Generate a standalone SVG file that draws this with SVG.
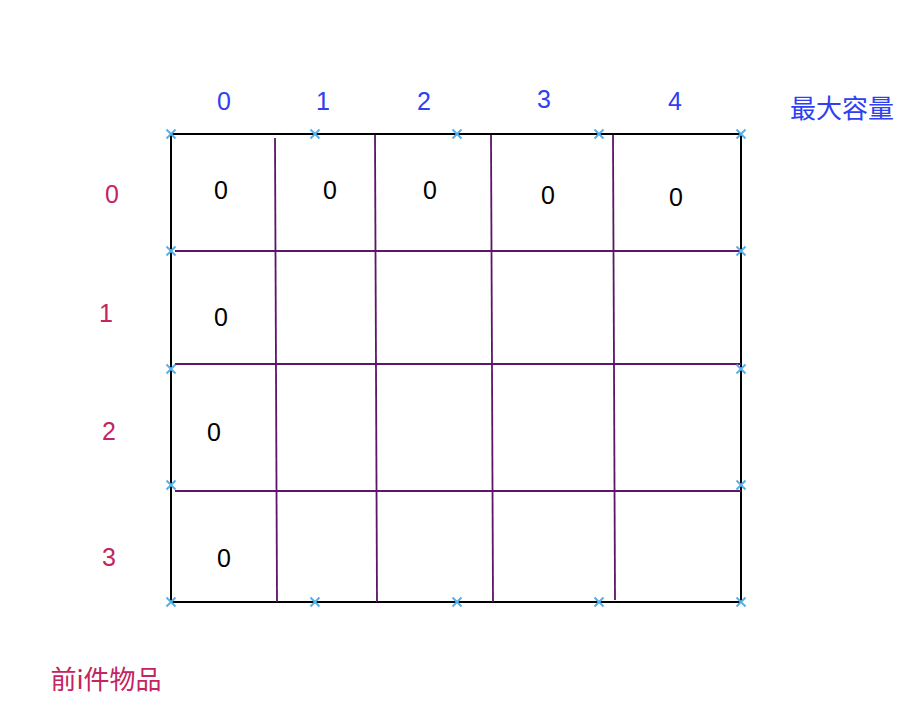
<svg xmlns="http://www.w3.org/2000/svg" width="912" height="726" viewBox="0 0 912 726">
<defs>
<style>
.grid{fill:none;stroke:#000;stroke-width:2}
.ln{stroke:#5E1469;stroke-width:1.8;fill:none}
.mk{stroke:#56B0EA;stroke-width:2;fill:none}
text{font-family:"Liberation Sans","Noto Sans CJK SC",Arial,sans-serif;dominant-baseline:central;text-anchor:middle}
.col{fill:#2F40F0;font-size:25px}
.row{fill:#C2255F;font-size:25px}
.cell{fill:#000;font-size:25px}
.cjk{font-family:"Noto Sans CJK SC","Liberation Sans",sans-serif;font-size:26px}
</style>
<g id="x"><path class="mk" d="M-4.5,-4.5L4.5,4.5M-4.5,4.5L4.5,-4.5"/></g>
</defs>
<rect width="912" height="726" fill="#fff"/>
<g id="table">
<rect class="grid" x="171" y="134" width="570" height="468"/>
</g>
<g id="connectors">
<path class="ln" d="M275,138L277,602"/>
<path class="ln" d="M375,135L377,602"/>
<path class="ln" d="M491,135L493,602"/>
<path class="ln" d="M613,135L615,600"/>
<path class="ln" d="M175,251L741,251"/>
<path class="ln" d="M175,364L741,364"/>
<path class="ln" d="M175,491L741,491"/>
</g>
<g id="markers">
<use href="#x" x="171" y="134"/><use href="#x" x="315" y="134"/><use href="#x" x="457" y="134"/><use href="#x" x="599" y="134"/><use href="#x" x="741" y="134"/>
<use href="#x" x="171" y="602"/><use href="#x" x="315" y="602"/><use href="#x" x="457" y="602"/><use href="#x" x="599" y="602"/><use href="#x" x="741" y="602"/>
<use href="#x" x="171" y="251"/><use href="#x" x="171" y="369"/><use href="#x" x="171" y="485"/>
<use href="#x" x="741" y="251"/><use href="#x" x="741" y="369"/><use href="#x" x="741" y="485"/>
</g>
<g id="col-labels">
<text class="col" x="224" y="101">0</text>
<text class="col" x="323" y="101">1</text>
<text class="col" x="424" y="101">2</text>
<text class="col" x="544" y="99">3</text>
<text class="col" x="675" y="101">4</text>
<text class="col cjk" x="842" y="106">最大容量</text>
</g>
<g id="row-labels">
<text class="row" x="112" y="194">0</text>
<text class="row" x="106" y="313">1</text>
<text class="row" x="109" y="431">2</text>
<text class="row" x="109" y="557">3</text>
<text class="row cjk" x="106" y="677">前i件物品</text>
</g>
<g id="cells">
<text class="cell" x="221" y="190">0</text>
<text class="cell" x="330" y="190">0</text>
<text class="cell" x="430" y="190">0</text>
<text class="cell" x="548" y="195">0</text>
<text class="cell" x="676" y="197">0</text>
<text class="cell" x="221" y="317">0</text>
<text class="cell" x="214" y="432">0</text>
<text class="cell" x="224" y="558">0</text>
</g>
</svg>
